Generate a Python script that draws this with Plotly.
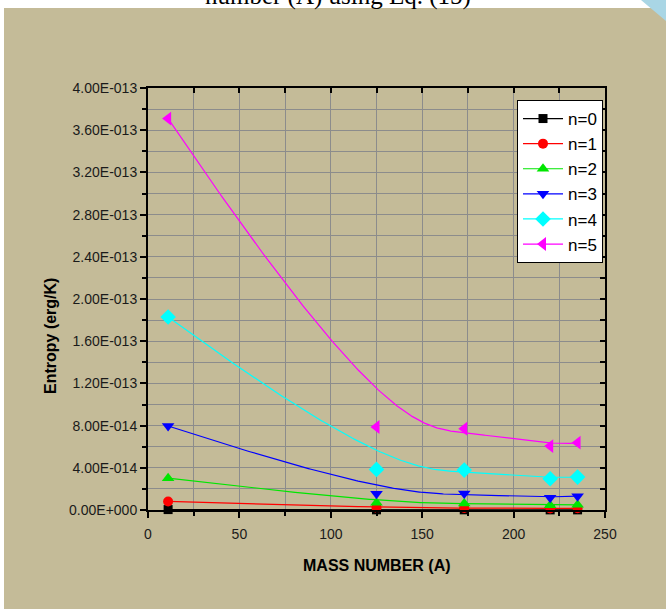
import numpy as np
import plotly.graph_objects as go

# ---------------- data ----------------
mass_number = [11, 125, 173, 220, 235]
series_names = ["n=0", "n=1", "n=2", "n=3", "n=4", "n=5"]
# entropy values in units of 1e-15 erg/K
s_n0 = [0.4, 0.15, 0.15, 0.12, 0.12]
s_n1 = [8.1, 2.1, 1.9, 1.5, 1.6]
s_n2 = [30.2, 6.8, 6.2, 4.6, 4.9]
s_n3 = [79.6, 15.4, 15.7, 11.6, 13.1]
s_n4 = [183.0, 38.5, 37.8, 29.6, 31.2]
s_n5 = [371.0, 78.7, 77.0, 60.6, 63.8]
scale = 1e-15
y_ticks = [i * 4e-14 for i in range(11)]
x_ticks = [0, 50, 100, 150, 200, 250]

colors = ["#000000", "#FF0000", "#00E600", "#0000FF", "#00FFFF", "#FF00FF"]
symbols = ["square", "circle", "triangle-up", "triangle-down", "diamond", "triangle-left"]
sizes = [9, 10, 11, 11, 12, 12]
all_series = [s_n0, s_n1, s_n2, s_n3, s_n4, s_n5]

# ---------------- layout geometry ----------------
W, H = 666, 609
L, R, T, B = 148, 61, 88, 99
PW, PH = W - L - R, H - T - B


def px_x(p):
    return (p - L) / PW


def px_y(p):
    return 1 - (p - T) / PH


def sci_label(v):
    if v == 0:
        return "0.00E+000"
    e = int(np.floor(np.log10(abs(v)) + 1e-9))
    m = v / 10 ** e
    sign = "+" if e >= 0 else "-"
    return f"{m:.2f}E{sign}{abs(e):03d}"


def bspline(xs, ys, n=300, k=3):
    """Clamped uniform B-spline (Origin-style B-Spline connection)."""
    P = np.column_stack([xs, ys]).astype(float)
    m = len(P)
    knots = np.concatenate([[0] * k, np.arange(0, m - k + 1), [m - k] * k]).astype(float)
    u = np.linspace(0, m - k, n)
    u[-1] -= 1e-9

    def N(i, p, t):
        if p == 0:
            return np.where((knots[i] <= t) & (t < knots[i + 1]), 1.0, 0.0)
        a = 0.0
        d1 = knots[i + p] - knots[i]
        if d1 > 0:
            a = (t - knots[i]) / d1 * N(i, p - 1, t)
        b = 0.0
        d2 = knots[i + p + 1] - knots[i + 1]
        if d2 > 0:
            b = (knots[i + p + 1] - t) / d2 * N(i + 1, p - 1, t)
        return a + b

    basis = np.array([N(i, k, u) for i in range(m)])
    C = basis.T @ P
    return C[:, 0], C[:, 1]


fig = go.Figure()

for name, vals, c, sym, sz in zip(series_names, all_series, colors, symbols, sizes):
    yv = [v * scale for v in vals]
    cx, cy = bspline(mass_number, yv)
    fig.add_trace(go.Scatter(x=cx, y=cy, mode="lines", line=dict(color=c, width=1.2),
                             showlegend=False, hoverinfo="skip", cliponaxis=False))
for name, vals, c, sym, sz in zip(series_names, all_series, colors, symbols, sizes):
    yv = [v * scale for v in vals]
    fig.add_trace(go.Scatter(x=mass_number, y=yv, mode="markers", name=name,
                             marker=dict(color=c, symbol=sym, size=sz, line=dict(width=0)),
                             showlegend=False, cliponaxis=False))
    fig.add_trace(go.Scatter(x=[None], y=[None], mode="lines+markers", name=name,
                             line=dict(color=c, width=1.2),
                             marker=dict(color=c, symbol=sym, size=sz, line=dict(width=0))))

# invisible trace to realise top / right axes
fig.add_trace(go.Scatter(x=[None], y=[None], xaxis="x2", yaxis="y2", showlegend=False))

tan = "#C4BB98"
grid = "#8C8C8C"
font_tick = dict(family="Arial, Liberation Sans, sans-serif", size=14, color="#1A1A1A")

fig.update_layout(
    width=W, height=H,
    margin=dict(l=L, r=R, t=T, b=B, pad=0),
    paper_bgcolor=tan, plot_bgcolor=tan,
    font=dict(family="Arial, Liberation Sans, sans-serif"),
    xaxis=dict(range=[0, 250], tickvals=x_ticks, ticktext=[str(v) for v in x_ticks],
               ticks="outside", ticklen=6, tickwidth=1.5, tickcolor="black",
               ticklabelstandoff=4,
               showline=True, linecolor="black", linewidth=2, mirror=True,
               showgrid=True, gridcolor=grid, gridwidth=1.2, zeroline=False,
               minor=dict(dtick=25, tick0=0, ticks="outside", ticklen=4, tickcolor="black",
                          showgrid=True, gridcolor=grid, gridwidth=1.2),
               tickfont=font_tick),
    yaxis=dict(range=[0, 4e-13], tickvals=y_ticks, ticktext=[sci_label(v) for v in y_ticks],
               ticks="outside", ticklen=6, tickwidth=1.5, tickcolor="black",
               showline=True, linecolor="black", linewidth=2, mirror=True,
               showgrid=True, gridcolor=grid, gridwidth=1.2, zeroline=False,
               minor=dict(dtick=2e-14, tick0=0, ticks="outside", ticklen=4, tickcolor="black",
                          showgrid=True, gridcolor=grid, gridwidth=1.2),
               tickfont=font_tick),
    xaxis2=dict(range=[0, 250], overlaying="x", side="top", showticklabels=False,
                tickmode="linear", tick0=0, dtick=25, ticks="inside", ticklen=5, tickwidth=1.5,
                tickcolor="black", showgrid=False, zeroline=False, showline=False),
    yaxis2=dict(range=[0, 4e-13], overlaying="y", side="right", showticklabels=False,
                tickmode="linear", tick0=0, dtick=2e-14, ticks="inside", ticklen=5, tickwidth=1.5,
                tickcolor="black", showgrid=False, zeroline=False, showline=False),
    legend=dict(x=px_x(517), y=px_y(100), xanchor="left", yanchor="top",
                bgcolor="white", bordercolor="black", borderwidth=1, itemwidth=40,
                font=dict(family="Arial, Liberation Sans, sans-serif", size=17, color="black"),
                traceorder="normal"),
    showlegend=True,
)

fig.add_annotation(text="<b>Entropy (erg/K)</b>", xref="paper", yref="paper",
                   x=px_x(50), y=px_y(336), textangle=-90, showarrow=False,
                   xanchor="center", yanchor="middle",
                   font=dict(family="Arial, Liberation Sans, sans-serif", size=16, color="black"))
fig.add_annotation(text="<b>MASS NUMBER (A)</b>", xref="paper", yref="paper",
                   x=px_x(377), y=px_y(565), showarrow=False,
                   xanchor="center", yanchor="middle",
                   font=dict(family="Arial, Liberation Sans, sans-serif", size=16, color="black"))
fig.add_annotation(text="number (A) using Eq. (15)", xref="paper", yref="paper",
                   x=px_x(338), y=px_y(12), showarrow=False,
                   xanchor="center", yanchor="bottom",
                   font=dict(family="Liberation Serif, Times New Roman, serif", size=25, color="black"))

# white strips at top and left, blue corner triangle
fig.add_shape(type="rect", xref="paper", yref="paper", x0=px_x(0), x1=px_x(W), y0=px_y(8), y1=px_y(0),
              fillcolor="white", line=dict(width=0), layer="below")
fig.add_shape(type="rect", xref="paper", yref="paper", x0=px_x(0), x1=px_x(4), y0=px_y(H), y1=px_y(0),
              fillcolor="white", line=dict(width=0), layer="below")
fig.add_shape(type="path", xref="paper", yref="paper",
              path=f"M {px_x(641)},{px_y(0)} L {px_x(W)},{px_y(0)} L {px_x(W)},{px_y(21)} Z",
              fillcolor="#A9D6E5", line=dict(width=0), layer="below")

fig.write_html("out.html", config={"displayModeBar": False})

# remove the browser's default page margin so the figure sits at (0, 0)
with open("out.html", "r", encoding="utf-8") as f:
    html = f.read()
html = html.replace("<head>", "<head><style>html,body{margin:0;padding:0;overflow:hidden;}</style>", 1)
with open("out.html", "w", encoding="utf-8") as f:
    f.write(html)
